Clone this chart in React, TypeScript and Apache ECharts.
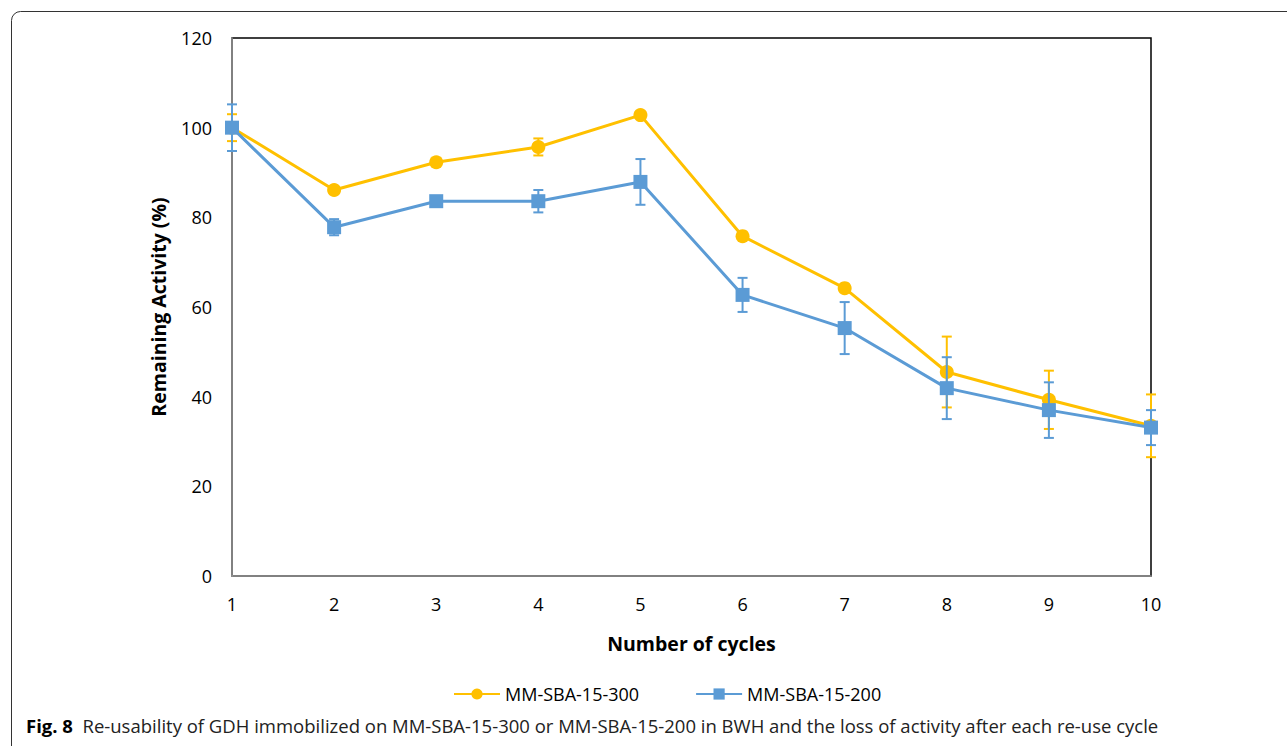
import React, { useEffect, useRef } from "react";
import * as echarts from "echarts";

const cycles = [1, 2, 3, 4, 5, 6, 7, 8, 9, 10];
const sba300 = [100, 86.1, 92.3, 95.7, 102.8, 75.8, 64.2, 45.5, 39.3, 33.5];
const sba300Err = [3, 0.5, 0.5, 1.9, 0.5, 0.5, 0.5, 7.9, 6.5, 7.0];
const sba200 = [100, 77.8, 83.6, 83.6, 87.9, 62.7, 55.3, 41.9, 37.0, 33.1];
const sba200Err = [5.2, 1.8, 1.0, 2.5, 5.1, 3.8, 5.8, 6.9, 6.2, 3.9];
const yTicks = { min: 0, max: 120, interval: 20 };
const names = ["MM-SBA-15-300", "MM-SBA-15-200"];
const colors = ["#FFC000", "#5B9BD5"];

const FONT = "'Open Sans', 'Noto Sans', sans-serif";

function errData(vals: number[], errs: number[]) {
  return cycles.map((c, i) => [c, vals[i] - errs[i], vals[i] + errs[i]]);
}

function errSeries(vals: number[], errs: number[], color: string, z: number) {
  return {
    type: "custom",
    z,
    silent: true,
    data: errData(vals, errs),
    renderItem: (params: any, api: any) => {
      const x = api.value(0);
      const lo = api.coord([x, api.value(1)]);
      const hi = api.coord([x, api.value(2)]);
      const half = 5;
      const style = { stroke: color, lineWidth: 2 };
      return {
        type: "group",
        children: [
          { type: "line", shape: { x1: lo[0], y1: lo[1], x2: hi[0], y2: hi[1] }, style },
          { type: "line", shape: { x1: lo[0] - half, y1: lo[1], x2: lo[0] + half, y2: lo[1] }, style },
          { type: "line", shape: { x1: hi[0] - half, y1: hi[1], x2: hi[0] + half, y2: hi[1] }, style },
        ],
      };
    },
  };
}

export default function App() {
  const ref = useRef<HTMLDivElement>(null);
  useEffect(() => {
    document.body.style.margin = "0";
    const chart = echarts.init(ref.current!, undefined, { renderer: "svg" });
    chart.setOption({
      animation: false,
      textStyle: { fontFamily: FONT },
      grid: {
        left: 232,
        right: 136,
        top: 38,
        bottom: 170,
        show: true,
        borderColor: "#000",
        borderWidth: 1.5,
      },
      legend: {
        left: 448,
        top: 680,
        itemGap: 56,
        itemWidth: 46,
        itemHeight: 14,
        textStyle: { fontSize: 18, color: "#000", fontFamily: FONT },
        data: names,
      },
      xAxis: {
        type: "value",
        min: 1,
        max: 10,
        interval: 1,
        name: "Number of cycles",
        nameLocation: "middle",
        nameGap: 57,
        nameTextStyle: { fontSize: 19.5, fontWeight: "bold", color: "#000", fontFamily: FONT },
        axisLine: { show: true, lineStyle: { color: "#999", width: 1.5 } },
        axisTick: { show: false },
        splitLine: { show: false },
        axisLabel: { fontSize: 18, color: "#000", margin: 19, fontFamily: FONT },
      },
      yAxis: {
        type: "value",
        min: yTicks.min,
        max: yTicks.max,
        interval: yTicks.interval,
        name: "Remaining Activity (%)",
        nameLocation: "middle",
        nameGap: 64,
        nameTextStyle: { fontSize: 19.5, fontWeight: "bold", color: "#000", fontFamily: FONT },
        axisLine: { show: true, lineStyle: { color: "#999", width: 1.5 } },
        axisTick: { show: false },
        splitLine: { show: false },
        axisLabel: { fontSize: 18, color: "#000", margin: 20, fontFamily: FONT },
      },
      series: [
        errSeries(sba300, sba300Err, colors[0], 2),
        {
          name: names[0],
          type: "line",
          z: 3,
          data: cycles.map((c, i) => [c, sba300[i]]),
          symbol: "circle",
          symbolSize: 14,
          lineStyle: { color: colors[0], width: 3 },
          itemStyle: { color: colors[0] },
        },
        errSeries(sba200, sba200Err, colors[1], 4),
        {
          name: names[1],
          type: "line",
          z: 5,
          data: cycles.map((c, i) => [c, sba200[i]]),
          symbol: "rect",
          symbolSize: 14,
          lineStyle: { color: colors[1], width: 3 },
          itemStyle: { color: colors[1] },
        },
      ],
      graphic: [
        {
          type: "rect",
          shape: { x: 11.5, y: 11.5, width: 1400, height: 900, r: 9 },
          style: { fill: "none", stroke: "#333", lineWidth: 1 },
          silent: true,
          z: 0,
        },
        {
          type: "text",
          left: 26,
          top: 716,
          style: {
            rich: {
              b: { fontWeight: "bold", fontSize: 18.5, fontFamily: FONT, fill: "#000" },
              n: { fontSize: 18.5, fontFamily: FONT, fill: "#222" },
            },
            text:
              "{b|Fig. 8}{n|  Re-usability of GDH immobilized on MM-SBA-15-300 or MM-SBA-15-200 in BWH and the loss of activity after each re-use cycle}",
          },
        },
      ],
    });
    return () => chart.dispose();
  }, []);
  return <div ref={ref} style={{ width: 1287, height: 746 }} />;
}
